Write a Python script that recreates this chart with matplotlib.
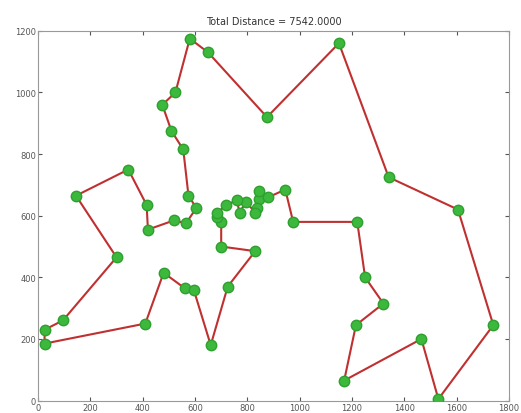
import matplotlib
matplotlib.use("Agg")
import matplotlib.pyplot as plt
import numpy as np

xs = [565, 25, 345, 945, 845, 880, 25, 525, 580, 650, 1605, 1220, 1465, 1530, 845, 725, 145, 415, 510, 560,
      300, 520, 480, 835, 975, 1215, 1320, 1250, 660, 410, 420, 575, 1150, 700, 685, 685, 770, 795, 720, 760,
      475, 95, 875, 700, 555, 830, 1170, 830, 605, 595, 1340, 1740]
ys = [575, 185, 750, 685, 655, 660, 230, 1000, 1175, 1130, 620, 580, 200, 5, 680, 370, 665, 635, 875, 365,
      465, 585, 415, 625, 580, 245, 315, 400, 180, 250, 555, 665, 1160, 580, 595, 610, 610, 645, 635, 650,
      960, 260, 920, 500, 815, 485, 65, 610, 625, 360, 725, 245]
tour = [1, 49, 32, 45, 19, 41, 8, 9, 10, 43, 33, 51, 11, 52, 14, 13, 47, 26, 27, 28, 12, 25, 4, 6, 15, 5,
        24, 48, 38, 37, 40, 39, 36, 35, 34, 44, 46, 16, 29, 50, 20, 23, 30, 2, 7, 42, 21, 17, 3, 18, 31, 22, 1]
title = "Total Distance = 7542.0000"

fig = plt.figure(figsize=(5.21, 4.14), dpi=100)
ax = fig.add_axes([0.073, 0.03, 0.904, 0.893])
tx = [xs[i - 1] for i in tour]
ty = [ys[i - 1] for i in tour]
ax.plot(tx, ty, color="#c03030", lw=1.5, zorder=2)
ax.plot(xs, ys, 'o', color="#3cb83c", ms=7.5, mec="#2ea02e", zorder=3)
ax.set_xlim(0, 1800)
ax.set_ylim(0, 1200)
ax.set_xticks(np.arange(0, 1801, 200))
ax.set_yticks(np.arange(0, 1201, 200))
ax.tick_params(direction="in", labelsize=6, length=3, pad=1.5, colors="#555555", top=True, right=True)
for s in ax.spines.values():
    s.set_color("#999999")
ax.set_title(title, fontsize=7, color="#333333", pad=5)
fig.savefig("out.png", dpi=100)
